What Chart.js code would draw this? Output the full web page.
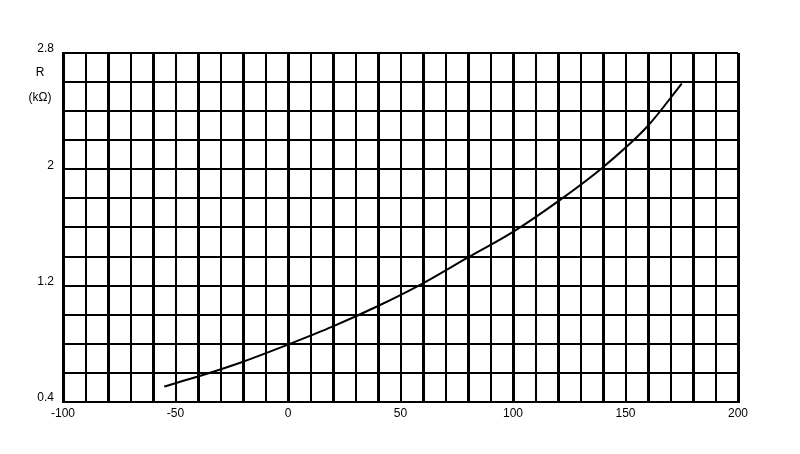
<!DOCTYPE html>
<html>
<head>
<meta charset="utf-8">
<script src="https://cdn.jsdelivr.net/npm/chart.js@4"></script>
<style>
  html, body { margin: 0; padding: 0; background: #fff; }
  #wrap { width: 800px; height: 454px; }
</style>
</head>
<body>
<div id="wrap"><canvas id="chart" width="800" height="454"></canvas></div>
<script>
// 온도 (°C)
const temperatures = [-55, -40, -20, 0, 20, 40, 60, 80, 100, 120, 140, 160, 175];
// 저항 (kΩ)
const resistances = [0.507, 0.575, 0.677, 0.795, 0.92, 1.06, 1.216, 1.394, 1.57, 1.78, 2.015, 2.3, 2.59];

// 눈금 라벨
const xTickLabels = [-100, -50, 0, 50, 100, 150, 200];
const yTickLabels = ['0.4', '1.2', '2', '2.8'];
const yUnitLines = ['R', '(kΩ)'];

const fontSpec = { family: 'Liberation Sans, Arial, sans-serif', size: 12 };

/**
 * 세로축 아래 단위 텍스트
 */
const unitLabelPlugin = {
  id: 'unitLabel',
  afterDraw(chart) {
    const { ctx, scales } = chart;
    const y = scales.y;
    const top = y.getPixelForValue(2.8);
    ctx.save();
    ctx.font = fontSpec.size + 'px ' + fontSpec.family;
    ctx.fillStyle = '#000';
    ctx.textAlign = 'center';
    ctx.textBaseline = 'middle';
    const cx = y.right - 23;
    yUnitLines.forEach((t, i) => {
      ctx.fillText(t, cx, top + 20 + i * 25);
    });
    ctx.restore();
  }
};

const points = temperatures.map((t, i) => ({ x: t, y: resistances[i] }));

new Chart(document.getElementById('chart'), {
  type: 'line',
  data: {
    datasets: [{
      data: points,
      borderColor: '#000',
      borderWidth: 2,
      pointRadius: 0,
      fill: false,
      cubicInterpolationMode: 'monotone'
    }]
  },
  options: {
    responsive: false,
    animation: false,
    layout: { padding: { top: 53, right: 62, bottom: 0, left: 0 } },
    plugins: { legend: { display: false }, tooltip: { enabled: false } },
    scales: {
      x: {
        type: 'linear',
        min: -100,
        max: 200,
        afterFit(scale) { scale.height = 52; },
        border: { color: '#000', width: 2 },
        grid: {
          color: '#000',
          drawTicks: false,
          lineWidth: ctx => (Math.round(ctx.tick.value) % 20 === 0 ? 3 : 2)
        },
        ticks: {
          stepSize: 10,
          autoSkip: false,
          maxRotation: 0,
          padding: 4,
          color: '#000',
          font: fontSpec,
          callback: v => (xTickLabels.includes(Math.round(v)) ? String(Math.round(v)) : '')
        }
      },
      y: {
        type: 'linear',
        min: 0.4,
        max: 2.8,
        afterFit(scale) { scale.width = 63; },
        border: { color: '#000', width: 2 },
        grid: { color: '#000', drawTicks: false, lineWidth: 2 },
        ticks: {
          stepSize: 0.2,
          autoSkip: false,
          padding: 9,
          labelOffset: -4,
          color: '#000',
          font: fontSpec,
          callback: v => {
            const s = String(Math.round(v * 10) / 10);
            return yTickLabels.includes(s) ? s : '';
          }
        }
      }
    }
  },
  plugins: [unitLabelPlugin]
});
</script>
</body>
</html>
